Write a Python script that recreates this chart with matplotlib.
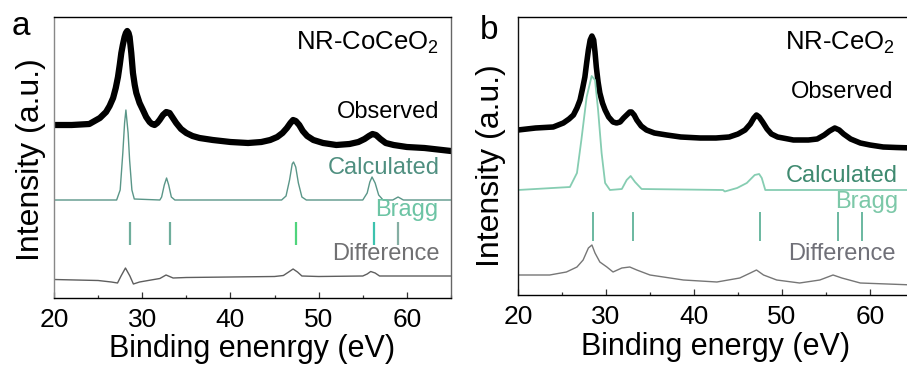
import matplotlib
matplotlib.use("Agg")
import matplotlib.pyplot as plt
from matplotlib.ticker import MultipleLocator

plt.rcParams['font.family'] = ['Liberation Sans', 'DejaVu Sans']
plt.rcParams['mathtext.default'] = 'regular'

# ---- panel a: NR-CoCeO2 -------------------------------------------------
a_obs_x = [20, 22, 24, 25.2, 25.9, 26.3, 26.7, 27.0, 27.25, 27.45, 27.63, 27.8,
           28.0, 28.15, 28.3, 28.45, 28.57, 28.76, 28.95, 29.15, 29.33, 29.7,
           30.08, 30.45, 30.84, 31.1, 31.4, 31.7, 31.97, 32.35, 32.72, 33.1, 33.4,
           33.85, 34.4, 35.0, 35.7, 36.5, 38, 40, 42, 43.5, 44.5, 45.3, 45.9,
           46.4, 46.8, 47.1, 47.4, 47.8, 48.2, 48.7, 49.4, 50.5, 52, 53.5, 54.5,
           55.2, 55.7, 56.1, 56.5, 57.0, 57.6, 58.5, 60, 62, 65]
a_obs_y = [173, 173, 174, 180, 186, 192, 200, 210, 221, 233, 245, 253,
           261, 265, 267, 265, 261, 245, 225, 213, 205, 195,
           188, 181, 176, 174, 173, 175, 178, 183, 186, 185, 181,
           175, 169, 165, 162, 160, 158, 156, 155, 156, 158, 161, 165,
           170, 175, 178, 177, 173, 167, 162, 158, 155, 153, 154, 156,
           159, 162, 164, 163, 159, 155, 153, 151, 150, 147]

a_calc_x = [20, 27.1, 27.5, 27.8, 28.0, 28.15, 28.4, 28.57, 28.83, 29.1, 32.0,
            32.2, 32.5, 32.76, 33.0, 33.3, 33.7, 45.8, 46.3, 46.7, 47.0, 47.15,
            47.4, 47.7, 48.1, 48.6, 55.0, 55.5, 55.8, 56.05, 56.4, 56.8, 57.3,
            58.4, 59.0, 59.6, 65]
a_calc_y = [98, 98, 108, 145, 175, 188, 165, 138, 108, 99, 98,
            101, 113, 120, 113, 101, 98, 98, 102, 118, 134, 136,
            131, 115, 101, 98, 98, 105, 116, 121, 115, 103, 98,
            98, 101, 98, 98]

a_diff_x = [20, 25, 26.5, 27.2, 27.6, 28.1, 28.6, 29.0, 29.7, 31, 32.0, 32.7,
            33.5, 35, 40, 45, 46, 46.6, 47.1, 47.6, 48.1, 50, 55, 55.5, 55.9,
            56.4, 56.9, 60, 65]
a_diff_y = [18.5, 17.5, 16, 15, 22, 30, 22, 14, 16, 18, 19.5, 23,
            20, 20.5, 21, 21.5, 22.5, 26, 29, 26, 22, 21.5, 22, 24, 26.5,
            25, 22, 22, 22]

a_bragg_pos = [28.6, 33.1, 47.45, 56.3, 58.95]
a_bragg_col = ['#6fae9c', '#6fae9c', '#4fd47c', '#3cc2ae', '#85aea3']

# ---- panel b: NR-CeO2 ---------------------------------------------------
b_obs_x = [20, 22, 24, 25.15, 25.8, 26.3, 26.7, 27.05, 27.35, 27.6, 27.8, 28.0,
           28.2, 28.4, 28.6, 28.75, 28.9, 29.1, 29.3, 29.6, 29.9, 30.3, 30.8,
           31.2, 31.6, 32.0, 32.35, 32.7, 32.9, 33.2, 33.5, 34.0, 34.6, 35.5,
           36.9, 38.5, 40.7, 42.5, 44.0, 45.0, 45.8, 46.4, 46.8, 47.1, 47.4,
           47.8, 48.3, 48.8, 49.5, 51.3, 53.0, 54.0, 54.8, 55.4, 56.0, 56.5,
           57.0, 57.8, 58.9, 60, 61.5, 63, 65]
b_obs_y = [165, 167, 168, 172, 176, 180, 187, 195, 207, 218, 232, 245,
           255, 259, 255, 243, 228, 213, 202, 192, 185, 178, 173,
           172, 173, 177, 180, 183, 183, 180, 175, 169, 165, 162,
           160, 158, 157, 157, 158, 161, 165, 171, 177, 180, 178,
           173, 166, 161, 158, 155, 155, 156, 160, 164, 167, 165,
           161, 156, 152, 150, 148, 147.5, 147]

b_calc_x = [20, 25.9, 26.7, 27.2, 27.8, 28.37, 28.75, 29.1, 29.5, 29.9, 30.45,
            31.8, 32.35, 32.8, 33.3, 34.05, 43.3, 43.5, 44.9, 46.0, 46.9, 47.4,
            47.7, 48.1, 65]
b_calc_y = [105, 108, 122, 155, 198, 219, 215, 185, 142, 112, 105,
            106, 115, 119, 113, 106, 105, 103.5, 107, 112, 120, 121,
            117, 105, 105]

b_diff_x = [20, 23.6, 25.5, 26.7, 27.4, 28.0, 28.4, 28.75, 29.3, 30.1, 30.8,
            31.8, 32.7, 33.5, 35.0, 38.8, 42.6, 45.2, 46.4, 47.1, 47.9, 49.4,
            52.0, 54.3, 55.8, 56.8, 58.9, 65]
b_diff_y = [20, 20, 23, 28, 35, 47, 50, 42, 33, 28, 23,
            27, 28, 25, 20, 15, 13, 17, 22, 25, 20, 15,
            12, 15, 20, 17, 12, 10]

b_bragg_pos = [28.5, 33.07, 47.46, 56.4, 59.1]
b_bragg_col = ['#6ab8a0'] * 5

W, H = 907, 367
fig = plt.figure(figsize=(W / 100, H / 100), dpi=100)


def px_axes(left, top, right, bottom):
    return fig.add_axes([left / W, 1 - bottom / H, (right - left) / W, (bottom - top) / H])


def style(ax, ymax, left_col):
    ax.set_xlim(20, 65)
    ax.set_ylim(0, ymax)
    ax.set_yticks([])
    ax.xaxis.set_major_locator(MultipleLocator(10))
    ax.xaxis.set_minor_locator(MultipleLocator(5))
    ax.tick_params(axis='x', which='major', direction='in', length=4, width=0.9,
                   labelsize=19, pad=7, color='#333333')
    ax.tick_params(axis='x', which='minor', direction='in', length=2.5, width=0.9,
                   color='#333333')
    for s in ax.spines.values():
        s.set_linewidth(1.0)
    ax.spines['left'].set_color(left_col)


# panel a
ax1 = px_axes(54, 17, 451, 298)
style(ax1, 281, '#888888')
ax1.spines['right'].set_color('#666666')
ax1.plot(a_obs_x, a_obs_y, color='black', lw=4.5, solid_capstyle='round',
         solid_joinstyle='round')
ax1.plot(a_calc_x, a_calc_y, color='#5a9688', lw=1.0)
ax1.plot(a_diff_x, a_diff_y, color='#5e5e5e', lw=1.0)
ax1.vlines(a_bragg_pos, 53, 76, colors=a_bragg_col, lw=1.6)
ax1.text(63.6, 248, 'NR-CoCeO$_2$', ha='right', va='baseline', fontsize=18.5)
ax1.text(63.7, 180, 'Observed', ha='right', va='baseline', fontsize=17)
ax1.text(63.7, 124, 'Calculated', ha='right', va='baseline', fontsize=17, color='#4f8f80')
ax1.text(63.5, 82, 'Bragg', ha='right', va='baseline', fontsize=17, color='#6cc4a4')
ax1.text(63.7, 38, 'Difference', ha='right', va='baseline', fontsize=17, color='#707072')
ax1.set_xlabel('Binding enenrgy (eV)', fontsize=22, labelpad=2)
ax1.set_ylabel('Intensity (a.u.)', fontsize=23)
ax1.yaxis.set_label_coords(-0.02, 0.493)

# panel b
ax2 = px_axes(518, 17, 914, 295)
style(ax2, 278, '#111111')
ax2.plot(b_obs_x, b_obs_y, color='black', lw=4, solid_capstyle='round',
         solid_joinstyle='round')
ax2.plot(b_calc_x, b_calc_y, color='#86cdb2', lw=1.3)
ax2.plot(b_diff_x, b_diff_y, color='#767676', lw=1.0)
ax2.vlines(b_bragg_pos, 54, 83, colors=b_bragg_col, lw=1.4)
ax2.text(62.9, 245, 'NR-CeO$_2$', ha='right', va='baseline', fontsize=18.5)
ax2.text(56.8, 197, 'Observed', ha='center', va='baseline', fontsize=17)
ax2.text(63.2, 113, 'Calculated', ha='right', va='baseline', fontsize=17, color='#3f8a70')
ax2.text(63.2, 87, 'Bragg', ha='right', va='baseline', fontsize=17, color='#7cc8a8')
ax2.text(62.9, 35, 'Difference', ha='right', va='baseline', fontsize=17, color='#707078')
ax2.set_xlabel('Binding energy (eV)', fontsize=22, labelpad=2)
ax2.set_ylabel('Intensity (a.u.)', fontsize=23)
ax2.yaxis.set_label_coords(-0.03, 0.464)

fig.text(12 / W, 1 - 35 / H, 'a', fontsize=24, va='baseline')
fig.text(480 / W, 1 - 39 / H, 'b', fontsize=24, va='baseline')

fig.savefig('out.png', dpi=100)
